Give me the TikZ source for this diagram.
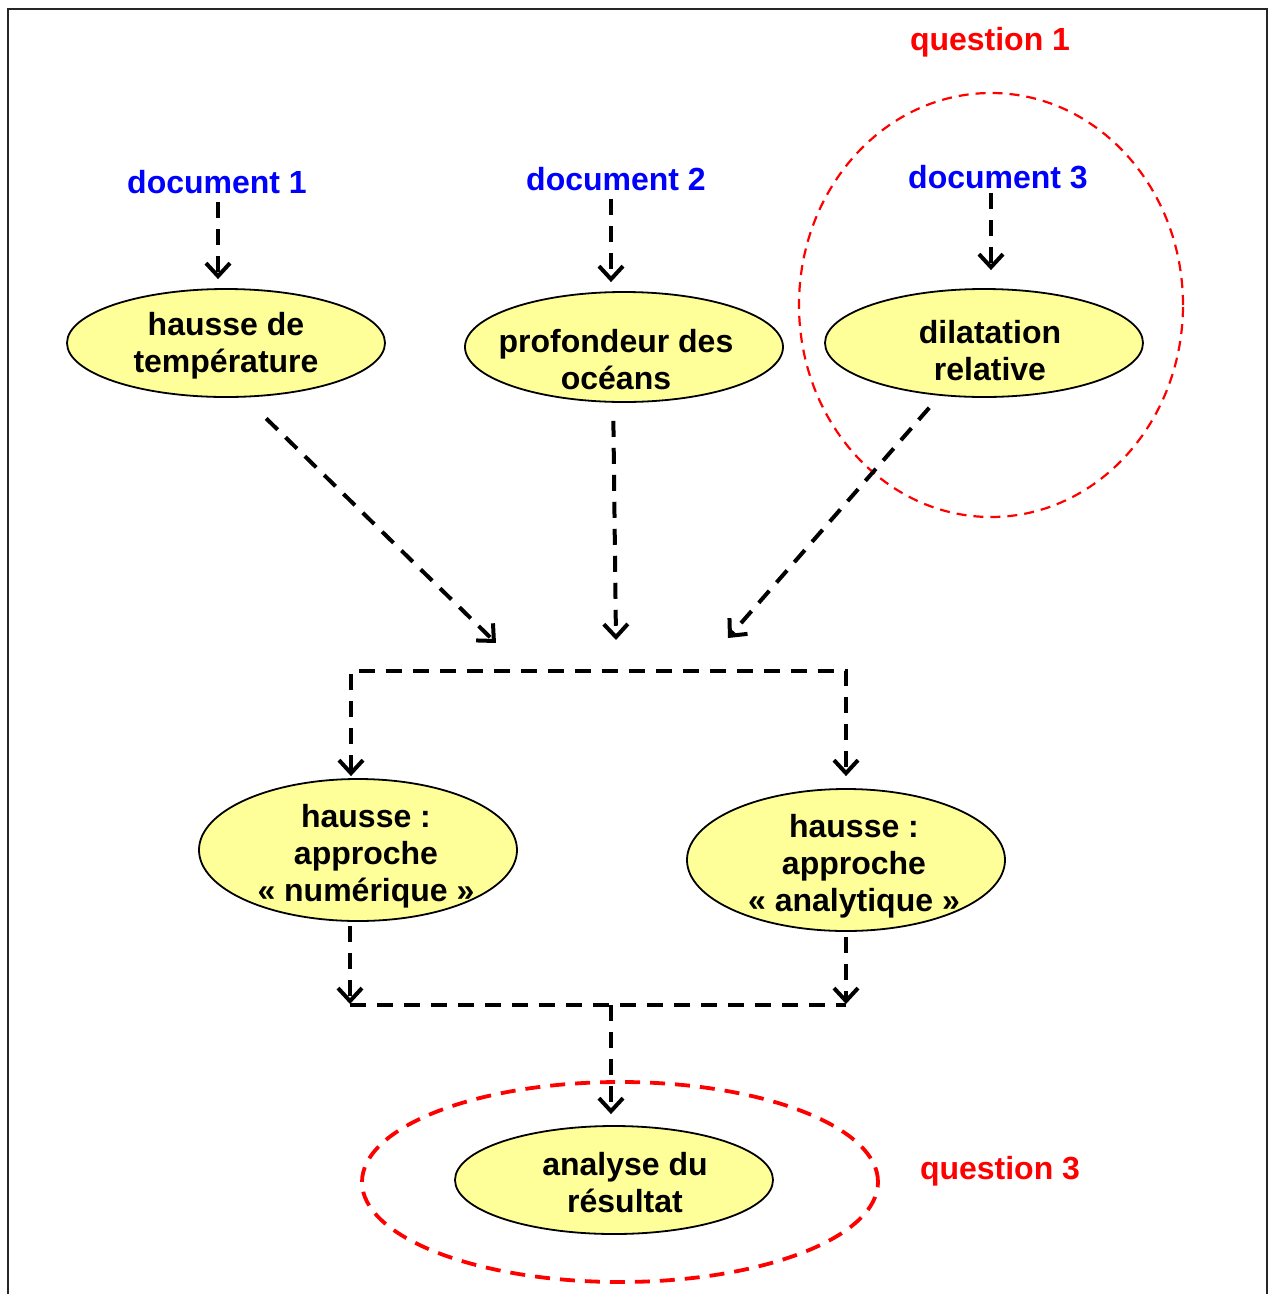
\documentclass[tikz,border=0pt]{standalone}
\usepackage{fontspec}
\setmainfont{Liberation Sans}
\usetikzlibrary{arrows.meta,shapes.geometric,calc}
\definecolor{bubblefill}{RGB}{255,255,153}
\begin{document}
\begin{tikzpicture}[x=1pt,y=-1pt,
  bubble/.style={ellipse, draw=black, line width=1.8pt, fill=bubblefill, inner sep=0pt, minimum width=318pt, minimum height=108pt},
  txt/.style={align=center, font=\fontsize{32}{37}\selectfont\bfseries, inner sep=0pt},
  doclabel/.style={txt, text=blue},
  qlabel/.style={txt, text=red},
  link/.style={line width=4pt, dash pattern=on 16pt off 11pt},
  arr/.style={link, -{Straight Barb[length=13pt,width=24pt]}},
  ring/.style={ellipse, draw=red, inner sep=0pt}
]
\useasboundingbox (0,0) rectangle (1270,1294);
\draw[line width=2pt, black!85] (8,1296) -- (8,9) -- (1267,9) -- (1267,1296);

% red rings
\node[ring, line width=2.2pt, dash pattern=on 10pt off 7pt, minimum width=384pt, minimum height=424pt] (ring1) at (991,305) {};
\node[ring, line width=3.8pt, dash pattern=on 15pt off 10pt, minimum width=516pt, minimum height=200pt] (ring3) at (620,1182) {};

% labels
\node[qlabel] (q1) at (990,42) {question 1};
\node[qlabel] (q3) at (1000,1171) {question 3};
\node[doclabel] (d1) at (217,182) {document 1};
\node[doclabel] (d2) at (616,179) {document 2};
\node[doclabel] (d3) at (998,177) {document 3};

% bubbles
\node[bubble] (e1) at (226,343) {};
\node[txt] (t1) at (226,346) {hausse de\\température};
\node[bubble, minimum height=110pt] (e2) at (624,347) {};
\node[txt] (t2) at (616,360) {profondeur des\\océans};
\node[bubble] (e3) at (984,343) {};
\node[txt] (t3) at (990,351) {dilatation\\relative};
\node[bubble, minimum height=142pt] (e4) at (358,850) {};
\node[txt] (t4) at (366,856) {hausse :\\approche\\« numérique »};
\node[bubble, minimum height=142pt] (e5) at (846,860) {};
\node[txt] (t5) at (854,866) {hausse :\\approche\\« analytique »};
\node[bubble] (e6) at (614,1180) {};
\node[txt] (t6) at (625,1183) {analyse du\\résultat};

% document arrows
\draw[arr, shorten <=8pt, shorten >=9pt] (d1.south -| 218,0) -- (218,0 |- e1.north);
\draw[arr, shorten <=8pt, shorten >=9pt] (d2.south -| 611,0) -- (611,0 |- e2.north);
\draw[arr, shorten <=4pt, shorten >=18pt] (d3.south -| 991,0) -- (991,0 |- e3.north);

% converging arrows
\coordinate (m1) at (496,643);
\coordinate (m2) at (616,640);
\coordinate (m3) at (728,638);
\draw[arr, shorten <=30pt] (e1.-71) -- (m1);
\draw[arr, shorten <=18pt] (e2.-101) -- (m2);
\draw[arr, shorten <=16pt] (e3.-130) -- (m3);

% split bracket
\coordinate (tl) at (351,671);
\coordinate (tr) at (846,671);
\draw[link, {Straight Barb[length=13pt,width=24pt]}-{Straight Barb[length=13pt,width=24pt]}, shorten <=2pt, shorten >=12pt]
  (tl |- e4.north) -- (tl) -- (tr) -- (tr |- e5.north);

% join
\coordinate (bl) at (350,1005);
\coordinate (br) at (846,1005);
\coordinate (bm) at (611,1005);
\draw[arr, shorten <=4pt, shorten >=1pt] (bl |- e4.south) -- (bl);
\draw[arr, shorten <=5pt, shorten >=1pt] (br |- e5.south) -- (br);
\draw[link] (bl) -- (br);
\draw[arr, shorten >=11pt] (bm) -- (bm |- e6.north);
\end{tikzpicture}
\end{document}
